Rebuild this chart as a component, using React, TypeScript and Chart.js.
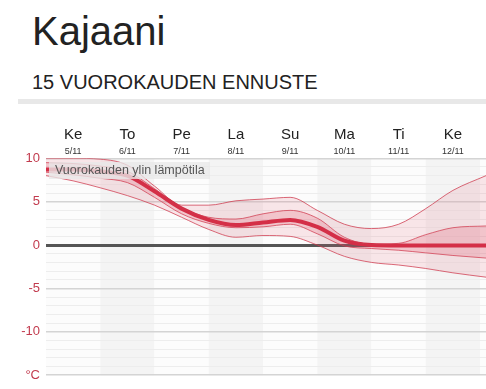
import React, { useEffect, useRef } from 'react';
import { Chart, registerables } from 'chart.js';

Chart.register(...registerables);

const dayNames = ['Ke', 'To', 'Pe', 'La', 'Su', 'Ma', 'Ti', 'Ke'];
const dayDates = ['5/11', '6/11', '7/11', '8/11', '9/11', '10/11', '11/11', '12/11'];
const xDays = [0, 0.5, 1, 1.5, 2, 2.5, 3, 3.5, 4, 4.5, 5, 5.5, 6, 6.5, 7, 7.5, 8.11];
const outerHigh = [10.0, 10.0, 9.9, 9.2, 6.8, 4.6, 4.6, 5.1, 5.3, 5.5, 4.0, 2.4, 1.9, 2.4, 4.2, 6.3, 8.0];
const innerHigh = [9.5, 9.4, 9.1, 8.5, 6.5, 4.3, 3.2, 3.0, 3.6, 4.0, 3.1, 0.9, 0.1, 0.2, 1.2, 2.0, 2.2];
const median = [8.7, 8.7, 8.5, 8.0, 6.2, 4.2, 2.9, 2.3, 2.6, 2.9, 2.1, 0.5, 0.0, -0.05, -0.05, -0.05, -0.05];
const innerLow = [8.4, 8.1, 7.7, 7.2, 5.5, 3.6, 2.5, 2.0, 2.1, 2.4, 1.3, -0.1, -0.4, -0.6, -0.9, -1.2, -1.5];
const outerLow = [8.0, 7.4, 6.6, 5.7, 4.6, 3.2, 1.8, 0.9, 1.1, 1.0, 0.0, -1.3, -2.0, -2.3, -2.7, -3.2, -3.7];
const yMin = -15;
const yMax = 10;
const unitLabel = '°C';
const legendText = 'Vuorokauden ylin lämpötila';

const pts = (vals: number[]) => vals.map((v, i) => ({ x: xDays[i], y: v }));

const bandsPlugin = {
  id: 'dayBands',
  beforeDraw(chart: any) {
    const { ctx, chartArea } = chart;
    const xs = chart.scales.x;
    ctx.save();
    ctx.fillStyle = '#ffffff';
    ctx.fillRect(0, 0, chart.width, chart.height);
    for (let i = 0; i < 9; i++) {
      const x0 = Math.max(chartArea.left, xs.getPixelForValue(i));
      const x1 = Math.min(chartArea.right, xs.getPixelForValue(i + 1));
      if (x1 <= x0) continue;
      ctx.fillStyle = i % 2 === 1 ? '#f4f4f4' : '#fcfcfc';
      ctx.fillRect(x0, chartArea.top, x1 - x0, chartArea.bottom - chartArea.top);
    }
    ctx.restore();
  },
  afterDraw(chart: any) {
    const { ctx } = chart;
    const xs = chart.scales.x;
    ctx.save();
    ctx.textAlign = 'center';
    ctx.textBaseline = 'middle';
    dayNames.forEach((n, i) => {
      const x = xs.getPixelForValue(i + 0.5);
      ctx.fillStyle = '#222222';
      ctx.font = '15px "Liberation Sans", Arial, sans-serif';
      ctx.fillText(n, x, 25);
      ctx.fillStyle = '#333333';
      ctx.font = '9px "Liberation Sans", Arial, sans-serif';
      ctx.fillText(dayDates[i], x, 42);
    });
    ctx.restore();
  },
};

export default function App() {
  const ref = useRef<HTMLCanvasElement | null>(null);
  useEffect(() => {
    if (!ref.current) return;
    const lineColor = 'rgba(205,55,75,0.75)';
    const chart = new Chart(ref.current, {
      type: 'line',
      data: {
        datasets: [
          { data: pts(outerHigh), borderColor: lineColor, borderWidth: 1, pointRadius: 0, fill: 4, backgroundColor: 'rgba(230,90,110,0.14)', cubicInterpolationMode: 'monotone' },
          { data: pts(innerHigh), borderColor: lineColor, borderWidth: 1, pointRadius: 0, fill: 3, backgroundColor: 'rgba(220,60,85,0.2)', cubicInterpolationMode: 'monotone' },
          { data: pts(median), borderColor: '#d0233c', borderWidth: 4, pointRadius: 0, fill: false, cubicInterpolationMode: 'monotone' },
          { data: pts(innerLow), borderColor: lineColor, borderWidth: 1, pointRadius: 0, fill: false, cubicInterpolationMode: 'monotone' },
          { data: pts(outerLow), borderColor: lineColor, borderWidth: 1, pointRadius: 0, fill: false, cubicInterpolationMode: 'monotone' },
        ],
      } as any,
      options: {
        animation: false,
        responsive: false,
        maintainAspectRatio: false,
        layout: { padding: { top: 48.3, bottom: 12, left: 0, right: 0 } },
        plugins: { legend: { display: false }, tooltip: { enabled: false } },
        scales: {
          x: { type: 'linear', min: 0, max: 8.11, display: false },
          y: {
            type: 'linear',
            min: yMin,
            max: yMax,
            afterFit: (s: any) => { s.width = 46; },
            border: { display: false },
            grid: {
              drawTicks: false,
              color: (c: any) => (c.tick.value === 0 ? '#555555' : c.tick.value % 5 === 0 ? '#d4d4d4' : '#ededed'),
              lineWidth: (c: any) => (c.tick.value === 0 ? 3 : c.tick.value % 5 === 0 ? 1.5 : 1),
            },
            ticks: {
              stepSize: 1,
              autoSkip: false,
              padding: 6,
              color: '#c23b4e',
              font: { family: '"Liberation Sans", Arial, sans-serif', size: 13 },
              callback: (v: any) => (v % 5 === 0 ? (v === yMin ? unitLabel : String(v)) : ''),
            },
          },
        },
      } as any,
      plugins: [bandsPlugin],
    });
    return () => chart.destroy();
  }, []);

  const font = '"Liberation Sans", Arial, sans-serif';
  return (
    <div style={{ position: 'absolute', left: 0, top: 0, width: 486, height: 389, overflow: 'hidden', background: '#fff', fontFamily: font }}>
      <div style={{ position: 'absolute', left: 32, top: 11, fontSize: 40, lineHeight: '40px', color: '#222', whiteSpace: 'nowrap' }}>Kajaani</div>
      <div style={{ position: 'absolute', left: 32, top: 72, fontSize: 20, lineHeight: '20px', color: '#222', whiteSpace: 'nowrap' }}>15 VUOROKAUDEN ENNUSTE</div>
      <div style={{ position: 'absolute', left: 18, top: 99, width: 468, height: 5, background: '#e8e8e8' }} />
      <canvas ref={ref} width={486} height={279} style={{ position: 'absolute', left: 0, top: 110, width: 486, height: 279 }} />
      <div style={{ position: 'absolute', left: 49, top: 162, height: 17, lineHeight: '17px', padding: '0 5px 0 6px', fontSize: 12.5, color: '#555', background: 'rgba(232,232,232,0.78)', whiteSpace: 'nowrap' }}>{legendText}</div>
    </div>
  );
}
